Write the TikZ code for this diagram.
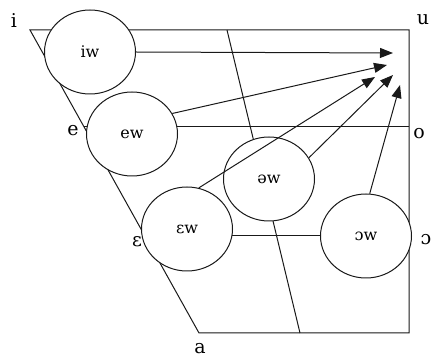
\documentclass[tikz,border=0pt]{standalone}
\usepackage{fontspec}
\setmainfont{DejaVu Serif}
\usetikzlibrary{shapes.geometric,arrows.meta}

\tikzset{
  chart/.style={line width=1pt, draw=black!90},
  vowel/.style={ellipse, draw=black!90, line width=1pt, fill=white,
    minimum width=91pt, minimum height=84pt, inner sep=0pt,
    font=\fontsize{16}{16}\selectfont},
  corner/.style={inner sep=0pt, font=\fontsize{19}{19}\selectfont},
  glide/.style={line width=1pt, draw=black!90,
    -{Triangle[length=13pt,width=10pt]}}
}

\begin{document}
\begin{tikzpicture}[x=1pt,y=-1pt]
  \useasboundingbox (0,0) rectangle (432,358);

  % corners of the vowel chart
  \coordinate (fronthigh) at (30,30);
  \coordinate (backhigh)  at (409,30);
  \coordinate (backlow)   at (409,333);
  \coordinate (frontlow)  at (199,333);
  % inner grid lines
  \coordinate (midleft)  at (84,127);
  \coordinate (midright) at (409,127);
  \coordinate (lowleft)  at (145,236);
  \coordinate (lowright) at (409,236);
  \coordinate (centtop)  at (227,30);
  \coordinate (centbot)  at (300,333);

  \draw[chart] (fronthigh) -- (backhigh) -- (backlow) -- (frontlow) -- cycle;
  \draw[chart] (midleft) -- (midright);
  \draw[chart] (lowleft) -- (lowright);
  \draw[chart] (centtop) -- (centbot);

  % corner vowel labels
  \node[corner] (li) at (14,21)  {i};
  \node[corner] (lu) at (423,20) {u};
  \node[corner] (le) at (73,131) {e};
  \node[corner] (lo) at (419,134) {o};
  \node[corner] (lE) at (137,242) {ɛ};
  \node[corner] (lO) at (426,240) {ɔ};
  \node[corner] (la) at (200,349) {a};

  % diphthong onsets
  \node[vowel] (iw)  at (90,52)   {iw};
  \node[vowel] (ew)  at (132,134) {ew};
  \node[vowel] (Ew)  at (187,229) {ɛw};
  \node[vowel] (schw) at (269,179) {əw};
  \node[vowel] (Ow)  at (366,236) {ɔw};

  % glide targets near u
  \coordinate (t1) at (393,53);
  \coordinate (t2) at (387,65);
  \coordinate (t3) at (375,77);
  \coordinate (t4) at (393,75);
  \coordinate (t5) at (400,85);

  \draw[glide] (iw.east) -- (t1);
  \draw[glide] (ew.27)   -- (t2);
  \draw[glide] (Ew.74)   -- (t3);
  \draw[glide] (schw.28) -- (t4);
  \draw[glide] (Ow.85)   -- (t5);
\end{tikzpicture}
\end{document}
